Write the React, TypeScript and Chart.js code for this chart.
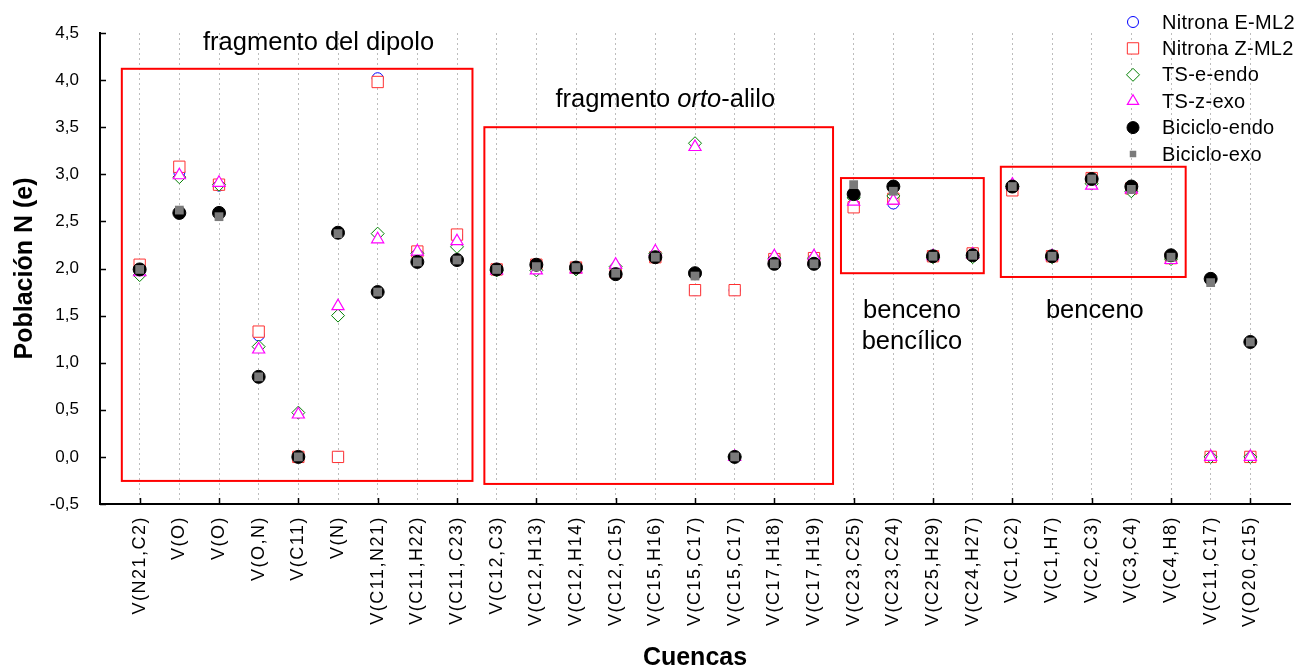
import { useEffect, useRef } from 'react';
import { Chart, registerables } from 'chart.js';

Chart.register(...registerables);

// Basins (cuencas) along the x axis
const CUENCAS = [
  'V(N21,C2)', 'V(O)', 'V(O)', 'V(O,N)', 'V(C11)', 'V(N)', 'V(C11,N21)', 'V(C11,H22)', 'V(C11,C23)',
  'V(C12,C3)', 'V(C12,H13)', 'V(C12,H14)', 'V(C12,C15)', 'V(C15,H16)', 'V(C15,C17)', 'V(C15,C17)',
  'V(C17,H18)', 'V(C17,H19)', 'V(C23,C25)', 'V(C23,C24)', 'V(C25,H29)', 'V(C24,H27)',
  'V(C1,C2)', 'V(C1,H7)', 'V(C2,C3)', 'V(C3,C4)', 'V(C4,H8)', 'V(C11,C17)', 'V(O20,C15)',
];

// Basin populations N (e)
const NITRONA_E_ML2 = [2.00, 3.02, 2.88, 1.29, 0.00, 0.00, 4.02, 2.17, 2.34, 1.99, 2.03, 2.01, 1.96, 2.12, 1.77, 1.77, 2.10, 2.10, 2.68, 2.69, 2.13, 2.15, 2.84, 2.13, 2.95, 2.85, 2.11, 0.00, 0.00];
const NITRONA_Z_ML2 = [2.04, 3.08, 2.89, 1.33, 0.00, 0.00, 3.98, 2.18, 2.36, 1.99, 2.04, 2.01, 1.96, 2.12, 1.77, 1.77, 2.10, 2.11, 2.65, 2.74, 2.13, 2.16, 2.83, 2.13, 2.96, 2.85, 2.11, 0.00, 0.00];
const TS_E_ENDO = [1.93, 2.97, 2.89, 1.17, 0.47, 1.50, 2.37, 2.16, 2.23, 1.98, 1.98, 1.99, 2.02, 2.16, 3.33, 0.00, 2.11, 2.11, 2.75, 2.77, 2.12, 2.12, 2.87, 2.12, 2.90, 2.82, 2.10, 0.00, 0.00];
const TS_Z_EXO = [1.96, 2.99, 2.91, 1.14, 0.45, 1.60, 2.31, 2.18, 2.29, 1.98, 1.98, 1.99, 2.04, 2.18, 3.29, 0.00, 2.13, 2.13, 2.71, 2.72, 2.13, 2.15, 2.89, 2.13, 2.88, 2.84, 2.09, 0.00, 0.00];
const BICICLO_ENDO = [1.99, 2.59, 2.59, 0.85, 0.00, 2.38, 1.75, 2.07, 2.09, 1.99, 2.04, 2.01, 1.94, 2.12, 1.95, 0.00, 2.05, 2.05, 2.79, 2.87, 2.13, 2.14, 2.87, 2.13, 2.95, 2.87, 2.14, 1.89, 1.22];
const BICICLO_EXO = [1.99, 2.62, 2.55, 0.85, 0.00, 2.37, 1.75, 2.07, 2.09, 1.99, 2.02, 2.01, 1.95, 2.12, 1.92, 0.00, 2.05, 2.05, 2.89, 2.82, 2.13, 2.14, 2.87, 2.13, 2.95, 2.84, 2.12, 1.85, 1.22];

const SERIES_NAMES = ['Nitrona E-ML2', 'Nitrona Z-ML2', 'TS-e-endo', 'TS-z-exo', 'Biciclo-endo', 'Biciclo-exo'];

const Y_MIN = -0.5;
const Y_MAX = 4.5;
const Y_STEP = 0.5;

// Fragment groupings drawn as red frames: basin index span and population span
const GROUP_X_FROM = [-0.45, 8.69, 17.68, 21.71];
const GROUP_X_TO = [8.39, 17.48, 21.28, 26.37];
const GROUP_Y_FROM = [-0.255, -0.287, 1.95, 1.91];
const GROUP_Y_TO = [4.12, 3.50, 2.96, 3.08];

const FONT = "'Liberation Sans', Arial, Helvetica, sans-serif";

type Marker = {
  style: 'circle' | 'rect' | 'rectRot' | 'triangle';
  radius: number;
  border: string;
  fill: string;
  width: number;
  legendRadius: number;
};

const MARKERS: Marker[] = [
  { style: 'circle', radius: 5.5, border: '#0000ff', fill: '#ffffff', width: 1, legendRadius: 5.5 },
  { style: 'rect', radius: 8, border: '#ff3030', fill: '#ffffff', width: 1, legendRadius: 8 },
  { style: 'rectRot', radius: 6.5, border: '#008000', fill: '#ffffff', width: 1, legendRadius: 6.5 },
  { style: 'triangle', radius: 7, border: '#ff00ff', fill: '#ffffff', width: 1.2, legendRadius: 6.5 },
  { style: 'circle', radius: 6.5, border: '#000000', fill: '#000000', width: 1, legendRadius: 6 },
  { style: 'rect', radius: 6.2, border: '#7a7a7a', fill: '#7a7a7a', width: 0, legendRadius: 4.6 },
];

const SERIES_VALUES = [NITRONA_E_ML2, NITRONA_Z_ML2, TS_E_ENDO, TS_Z_EXO, BICICLO_ENDO, BICICLO_EXO];

function drawMarker(ctx: CanvasRenderingContext2D, m: Marker, x: number, y: number, r: number) {
  ctx.save();
  ctx.beginPath();
  if (m.style === 'circle') {
    ctx.arc(x, y, r, 0, Math.PI * 2);
  } else if (m.style === 'rect') {
    const s = Math.SQRT1_2 * r;
    ctx.rect(x - s, y - s, 2 * s, 2 * s);
  } else if (m.style === 'rectRot') {
    ctx.moveTo(x - r, y);
    ctx.lineTo(x, y - r);
    ctx.lineTo(x + r, y);
    ctx.lineTo(x, y + r);
    ctx.closePath();
  } else {
    for (let k = 0; k < 3; k++) {
      const a = (k * 2 * Math.PI) / 3;
      const px = x + Math.sin(a) * r;
      const py = y - Math.cos(a) * r;
      if (k === 0) ctx.moveTo(px, py);
      else ctx.lineTo(px, py);
    }
    ctx.closePath();
  }
  ctx.fillStyle = m.fill;
  ctx.fill();
  if (m.width > 0) {
    ctx.lineWidth = m.width;
    ctx.strokeStyle = m.border;
    ctx.stroke();
  }
  ctx.restore();
}

const setSpacing = (ctx: any, px: number) => {
  if ('letterSpacing' in ctx) ctx.letterSpacing = `${px}px`;
};

const decorations = {
  id: 'decorations',
  beforeDraw(chart: any) {
    // the basin labels (drawn before the datasets) use slightly spaced lettering
    setSpacing(chart.ctx, 1.5);
  },
  beforeDatasetsDraw(chart: any) {
    const { ctx, scales } = chart;
    setSpacing(ctx, 0);
    const x = scales.x;
    const y = scales.y;
    ctx.save();
    ctx.strokeStyle = '#ff0000';
    ctx.lineWidth = 2;
    for (let i = 0; i < GROUP_X_FROM.length; i++) {
      const l = x.getPixelForValue(GROUP_X_FROM[i]);
      const r = x.getPixelForValue(GROUP_X_TO[i]);
      const t = y.getPixelForValue(GROUP_Y_TO[i]);
      const b = y.getPixelForValue(GROUP_Y_FROM[i]);
      ctx.strokeRect(l, t, r - l, b - t);
    }
    ctx.restore();
  },
  afterDraw(chart: any) {
    const { ctx, scales, chartArea } = chart;
    const x = scales.x;
    const y = scales.y;
    ctx.save();
    setSpacing(ctx, 0);

    // inward tick marks
    ctx.strokeStyle = '#000000';
    ctx.lineWidth = 1.5;
    ctx.beginPath();
    for (let v = Y_MIN; v <= Y_MAX + 1e-9; v += Y_STEP) {
      const py = Math.round(y.getPixelForValue(v)) + 0.5;
      ctx.moveTo(chartArea.left, py);
      ctx.lineTo(chartArea.left + 6, py);
    }
    for (let i = 0; i < CUENCAS.length; i += 2) {
      const px = Math.round(x.getPixelForValue(i)) + 0.5;
      ctx.moveTo(px, chartArea.bottom);
      ctx.lineTo(px, chartArea.bottom - 6);
    }
    ctx.stroke();

    // fragment captions
    ctx.fillStyle = '#000000';
    ctx.textBaseline = 'middle';
    ctx.font = `25.5px ${FONT}`;
    ctx.textAlign = 'center';
    ctx.fillText('fragmento del dipolo', x.getPixelForValue(4.51), y.getPixelForValue(4.39));
    ctx.fillText('benceno', x.getPixelForValue(19.47), y.getPixelForValue(1.55));
    ctx.fillText('bencílico', x.getPixelForValue(19.47), y.getPixelForValue(1.22));
    ctx.fillText('benceno', x.getPixelForValue(24.08), y.getPixelForValue(1.55));

    // "fragmento orto-alilo" with italic "orto"
    const parts: [string, string][] = [
      ['fragmento ', `25.5px ${FONT}`],
      ['orto', `italic 25.5px ${FONT}`],
      ['-alilo', `25.5px ${FONT}`],
    ];
    let total = 0;
    const widths = parts.map(([t, f]) => {
      ctx.font = f;
      const w = ctx.measureText(t).width;
      total += w;
      return w;
    });
    let cx = x.getPixelForValue(13.25) - total / 2;
    const cy = y.getPixelForValue(3.79);
    ctx.textAlign = 'left';
    parts.forEach(([t, f], i) => {
      ctx.font = f;
      ctx.fillText(t, cx, cy);
      cx += widths[i];
    });

    // legend
    ctx.font = `20px ${FONT}`;
    ctx.textAlign = 'left';
    setSpacing(ctx, 0.3);
    SERIES_NAMES.forEach((name, i) => {
      const ry = 22 + i * 26.4;
      const m = MARKERS[i];
      drawMarker(ctx, m, 1133, ry, m.legendRadius);
      ctx.fillStyle = '#000000';
      ctx.fillText(name, 1162, ry + 1);
    });
    setSpacing(ctx, 0);

    // axis titles
    ctx.font = `bold 25px ${FONT}`;
    ctx.textAlign = 'center';
    ctx.fillText('Cuencas', (chartArea.left + chartArea.right) / 2, 658);
    ctx.translate(25, (chartArea.top + chartArea.bottom) / 2);
    ctx.rotate(-Math.PI / 2);
    ctx.fillText('Población N (e)', 0, 0);

    ctx.restore();
  },
};

export default function App() {
  const canvasRef = useRef<HTMLCanvasElement>(null);

  useEffect(() => {
    const canvas = canvasRef.current;
    if (!canvas) return;

    // later series sit on top of earlier ones
    const datasets = SERIES_VALUES.map((values, i) => {
      const m = MARKERS[i];
      return {
        label: SERIES_NAMES[i],
        data: values.map((v, k) => ({ x: k, y: v })),
        showLine: false,
        pointStyle: m.style,
        pointRadius: m.radius,
        pointHoverRadius: m.radius,
        pointBorderWidth: m.width,
        pointBorderColor: m.border,
        pointBackgroundColor: m.fill,
        borderColor: m.border,
        backgroundColor: m.fill,
        order: SERIES_VALUES.length - i,
      };
    });

    const chart = new Chart(canvas, {
      type: 'scatter',
      data: { datasets },
      options: {
        animation: false,
        responsive: false,
        devicePixelRatio: 1,
        events: [],
        layout: { padding: { top: 33, right: 8, bottom: 0, left: 0 } },
        plugins: {
          legend: { display: false },
          tooltip: { enabled: false },
        },
        scales: {
          x: {
            type: 'linear',
            min: -1,
            max: CUENCAS.length,
            afterFit: (s: any) => {
              s.height = 168;
              s.paddingLeft = 0;
              s.paddingRight = 0;
            },
            ticks: {
              stepSize: 1,
              maxTicksLimit: 200,
              autoSkip: false,
              minRotation: 90,
              maxRotation: 90,
              padding: 12,
              color: '#000000',
              font: { family: FONT, size: 18 },
              callback: (value: any) => {
                const i = Number(value);
                return Number.isInteger(i) && i >= 0 && i < CUENCAS.length ? CUENCAS[i] : '';
              },
            },
            grid: {
              drawTicks: false,
              lineWidth: 1,
              color: (c: any) => {
                const v = c.tick ? c.tick.value : -1;
                return v >= 0 && v < CUENCAS.length ? '#bdbdbd' : 'rgba(0,0,0,0)';
              },
            },
            border: { display: true, color: '#000000', width: 2, dash: [2, 3] },
          },
          y: {
            type: 'linear',
            min: Y_MIN,
            max: Y_MAX,
            afterFit: (s: any) => {
              s.width = 100;
            },
            ticks: {
              z: 1,
              stepSize: Y_STEP,
              padding: 21,
              color: '#000000',
              font: { family: FONT, size: 17 },
              callback: (value: any) => Number(value).toFixed(1).replace('.', ','),
            },
            grid: { display: false, drawTicks: false },
            border: { display: true, color: '#000000', width: 2 },
          },
        },
      },
      plugins: [decorations],
    } as any);

    return () => chart.destroy();
  }, []);

  return (
    <div style={{ position: 'fixed', left: 0, top: 0, width: 1299, height: 672, background: '#ffffff' }}>
      <canvas ref={canvasRef} width={1299} height={672} style={{ display: 'block', width: 1299, height: 672 }} />
    </div>
  );
}
